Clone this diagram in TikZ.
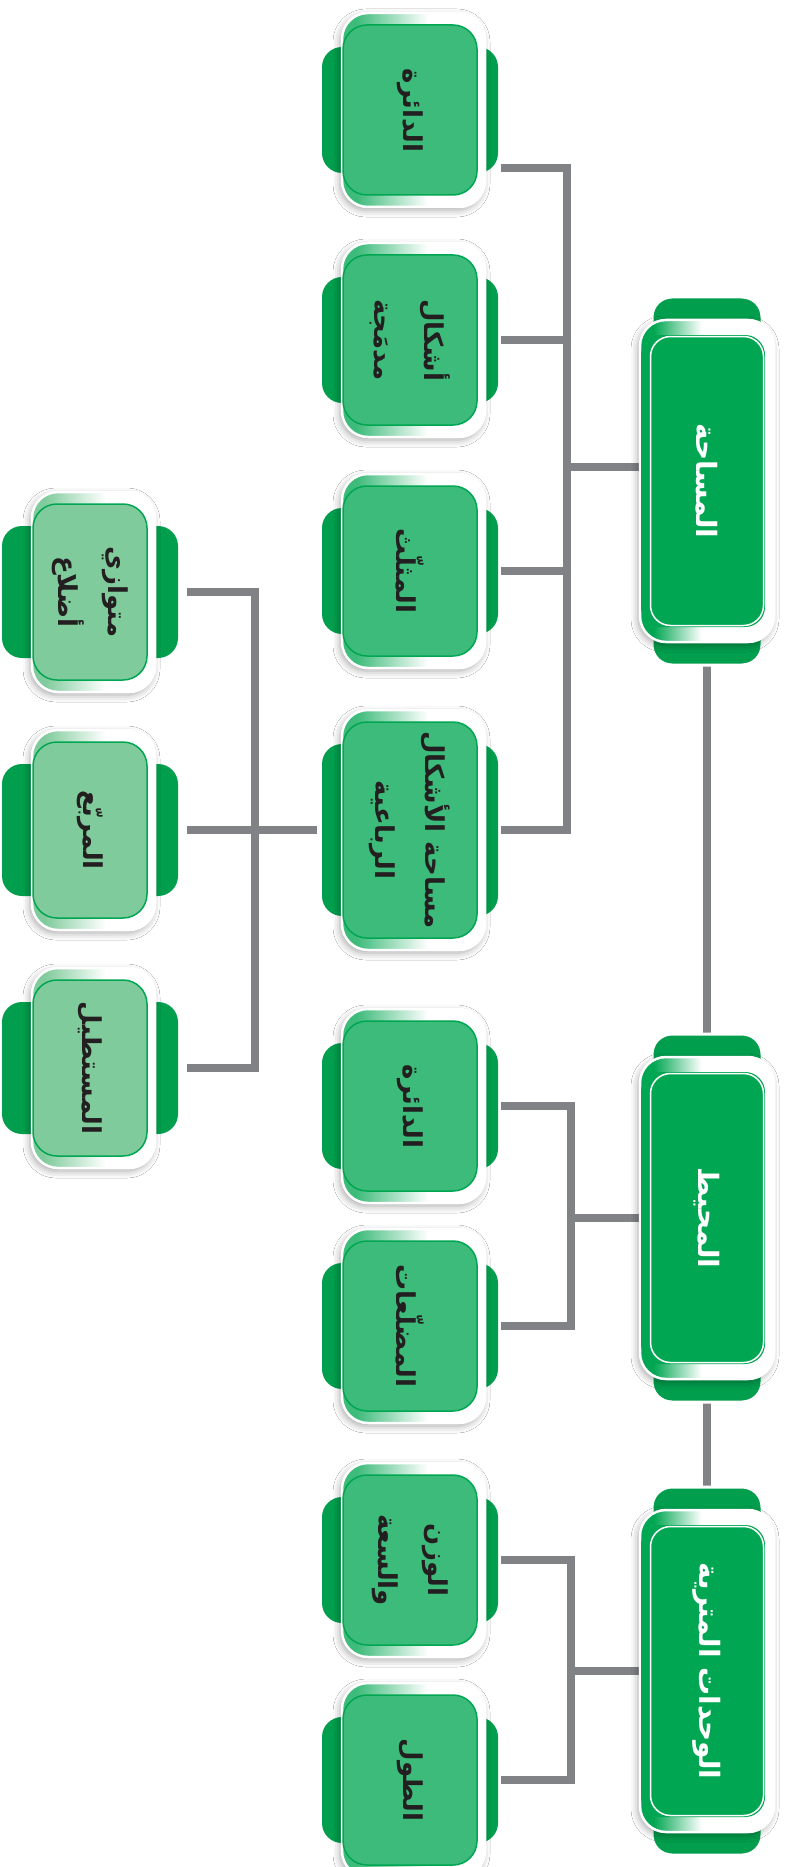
\documentclass[tikz,border=0pt]{standalone}
\usepackage{fontspec}
\newfontfamily\arabicfont[Script=Arabic]{DejaVu Sans}
\TeXXeTstate=1
\usetikzlibrary{backgrounds,shadows.blur}
\definecolor{kgreen}{HTML}{00A651}
\definecolor{tabgreen}{HTML}{009E4D}
\definecolor{mgreen}{HTML}{3DBB7A}
\definecolor{lgreen}{HTML}{80CB9C}
\definecolor{bargray}{HTML}{808285}
\definecolor{ink}{HTML}{231F20}
\pgfdeclarehorizontalshading{glosstop}{100bp}{color(0bp)=(kgreen);color(30bp)=(kgreen);color(48bp)=(white);color(100bp)=(white)}
\pgfdeclarehorizontalshading{glosssub}{100bp}{color(0bp)=(mgreen);color(30bp)=(mgreen);color(55bp)=(white);color(100bp)=(white)}
\pgfdeclarehorizontalshading{glossleaf}{100bp}{color(0bp)=(lgreen);color(30bp)=(lgreen);color(55bp)=(white);color(100bp)=(white)}
\newcommand{\ar}[1]{{\arabicfont\bfseries\beginR #1\endR}}
\tikzset{bus/.style={draw=bargray,line width=7.5pt}}
\tikzset{tabpart/.style={fill=tabgreen,rounded corners=20pt}}
\tikzset{framepart/.style={draw=white,line width=2.5pt,rounded corners=26pt,blur shadow={shadow xshift=-2pt,shadow yshift=-3pt,shadow blur radius=7pt,shadow opacity=35}}}
\tikzset{topbox/.style={rotate=-90,fill=kgreen,draw=white,line width=1.5pt,rounded corners=20pt,text=white,font=\fontsize{28}{34}\selectfont,inner sep=2pt}}
\tikzset{subbox/.style={rotate=-90,fill=mgreen,draw=kgreen,line width=1.5pt,rounded corners=24pt,text=ink,align=center,font=\fontsize{26}{50}\selectfont,inner sep=2pt}}
\tikzset{leafbox/.style={subbox,fill=lgreen}}
\newcommand{\kbox}[7]{%
\fill[tabpart](#3-88,#4-#6/2+22)rectangle(#3+88,#4+#6/2-22);
\shade[framepart,shading=gloss#1](#3-#5/2-1,#4-#6/2-12)rectangle(#3+#5/2+8,#4+#6/2+12);
\node(#2)[#1box,minimum width=#6,minimum height=#5]at(#3,#4){#7};}
\newcommand{\kmain}[4]{%
\fill[tabpart,draw=white,line width=3pt](#2-55,#3-184)rectangle(#2+55,#3+184);
\shade[framepart,shading=glosstop](#2-67,#3-161)rectangle(#2+67,#3+161);
\fill[kgreen,rounded corners=20pt](#2-66,#3-146)rectangle(#2+58,#3+146);
\node(#1)[topbox,minimum width=289,minimum height=113]at(#2,#3){#4};}
\begin{document}
\begin{tikzpicture}[x=1pt,y=-1pt]
\useasboundingbox(0,0)rectangle(786,1867);\clip(0,0)rectangle(786,1867);
\kmain{area}{707}{481}{\ar{المساحة}}
\kmain{perim}{707}{1218}{\ar{المحيط}}
\kmain{units}{707}{1671}{\ar{\beginR الوحدات المترية\endR}}
\kbox{sub}{acirc}{410}{110}{134}{170}{\ar{الدائرة}}
\kbox{sub}{comp}{410}{340}{134}{170}{\ar{أشكال}\\\ar{مدمَجة}}
\kbox{sub}{tri}{410}{571}{134}{170}{\ar{المثلّث}}
\kbox{sub}{quad}{410}{830}{134}{216}{\ar{\beginR مساحة الأشكال\endR}\\\ar{الرباعية}}
\kbox{sub}{pcirc}{410}{1106}{134}{170}{\ar{الدائرة}}
\kbox{sub}{poly}{410}{1326}{134}{170}{\ar{المضلّعات}}
\kbox{sub}{wt}{410}{1560}{134}{170}{\ar{الوزن}\\\ar{والسعة}}
\kbox{sub}{len}{410}{1780}{134}{170}{\ar{الطول}}
\kbox{leaf}{para}{90}{592}{114}{176}{\ar{متوازي}\\\ar{أضلاع}}
\kbox{leaf}{sq}{90}{830}{114}{176}{\ar{المربّع}}
\kbox{leaf}{rect}{90}{1068}{114}{176}{\ar{المستطيل}}
\begin{scope}[on background layer]
\fill[white](0,0)rectangle(786,1867);
\coordinate(ja)at(567,467);\coordinate(jp)at(571,1218);\coordinate(ju)at(571,1671);\coordinate(jq)at(255,830);
\draw[bus](area.east)--(perim.west);\draw[bus](perim.east)--(units.west);
\draw[bus]([yshift=14pt]area.south)--(ja);
\draw[bus]([shift={(23,58)}]acirc.north)-|(ja)|-([xshift=23pt]quad.north);
\draw[bus]([xshift=23pt]comp.north)--(comp.north-|ja);\draw[bus]([xshift=23pt]tri.north)--(tri.north-|ja);
\draw[bus](perim.south)--(jp);\draw[bus]([xshift=23pt]pcirc.north)-|(jp)|-([xshift=23pt]poly.north);
\draw[bus](units.south)--(ju);\draw[bus]([xshift=23pt]wt.north)-|(ju)|-([xshift=23pt]len.north);
\draw[bus]([xshift=-25pt]quad.south)--([xshift=39pt]sq.north);
\draw[bus]([xshift=39pt]para.north)-|(jq)|-([xshift=39pt]rect.north);
\end{scope}
\end{tikzpicture}
\end{document}
